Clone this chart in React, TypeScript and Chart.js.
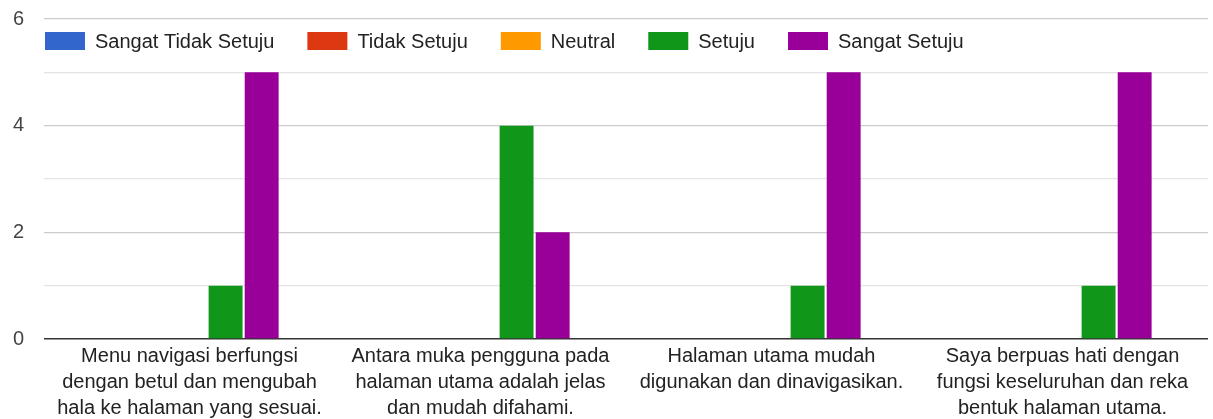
import React, { useEffect, useRef } from "react";
import { Chart, registerables } from "chart.js";

Chart.register(...registerables);

const categories: string[][] = [
  ["Menu navigasi berfungsi", "dengan betul dan mengubah", "hala ke halaman yang sesuai."],
  ["Antara muka pengguna pada", "halaman utama adalah jelas", "dan mudah difahami."],
  ["Halaman utama mudah", "digunakan dan dinavigasikan."],
  ["Saya berpuas hati dengan", "fungsi keseluruhan dan reka", "bentuk halaman utama."],
];

const seriesNames = ["Sangat Tidak Setuju", "Tidak Setuju", "Neutral", "Setuju", "Sangat Setuju"];
const seriesColors = ["#3366cc", "#dc3912", "#ff9900", "#109618", "#990099"];

const sangatTidakSetuju = [0, 0, 0, 0];
const tidakSetuju = [0, 0, 0, 0];
const neutral = [0, 0, 0, 0];
const setuju = [1, 4, 1, 1];
const sangatSetuju = [5, 2, 5, 5];

const yTicks = [0, 2, 4, 6];

const FONT = "'Liberation Sans', Arial, sans-serif";

const insideLegend = {
  id: "insideLegend",
  afterDatasetsDraw(chart: any) {
    const { ctx, chartArea } = chart;
    ctx.save();
    ctx.font = `20px ${FONT}`;
    ctx.textBaseline = "middle";
    let x = chartArea.left + 1;
    const yc = chartArea.top + 22;
    chart.data.datasets.forEach((ds: any) => {
      ctx.fillStyle = ds.backgroundColor;
      ctx.fillRect(x, yc - 9, 40, 18);
      ctx.fillStyle = "#222222";
      ctx.fillText(ds.label, x + 50, yc + 1);
      x += 50 + ctx.measureText(ds.label).width + 33;
    });
    ctx.restore();
  },
};

export default function App() {
  const ref = useRef<HTMLCanvasElement | null>(null);

  useEffect(() => {
    document.body.style.margin = "0";
    const values = [sangatTidakSetuju, tidakSetuju, neutral, setuju, sangatSetuju];
    const chart = new Chart(ref.current!, {
      type: "bar",
      data: {
        labels: categories,
        datasets: seriesNames.map((name, i) => ({
          label: name,
          data: values[i],
          backgroundColor: seriesColors[i],
          borderWidth: 0,
          categoryPercentage: 0.62,
          barPercentage: 0.94,
        })),
      },
      options: {
        animation: false,
        responsive: false,
        maintainAspectRatio: false,
        layout: { padding: { top: 19, right: 5, left: 0, bottom: 0 } },
        plugins: {
          legend: { display: false },
          tooltip: { enabled: false },
        },
        scales: {
          x: {
            afterFit(scale: any) {
              scale.height = 80;
              scale.paddingTop = 0;
              scale.paddingBottom = 0;
            },
            grid: { display: false },
            border: { display: false },
            ticks: {
              color: "#222222",
              font: { family: FONT, size: 20, lineHeight: 1.3 },
              maxRotation: 0,
              autoSkip: false,
              padding: -4,
            },
          },
          y: {
            min: 0,
            max: 6,
            afterFit(scale: any) {
              scale.width = 44;
              scale.paddingTop = 0;
              scale.paddingBottom = 0;
            },
            border: { display: false },
            grid: {
              color: (c: any) =>
                c.tick.value === 0 ? "#333333" : c.tick.value % 2 === 0 ? "#cccccc" : "#e4e4e4",
              lineWidth: (c: any) => (c.tick.value === 0 ? 1.5 : 1.2),
              drawTicks: false,
            },
            ticks: {
              stepSize: 1,
              color: "#444444",
              font: { family: FONT, size: 20 },
              padding: 20,
              callback: (v: any) => (yTicks.includes(Number(v)) ? String(v) : ""),
            },
          },
        },
      },
      plugins: [insideLegend],
    });
    return () => chart.destroy();
  }, []);

  return (
    <div style={{ position: "absolute", left: 0, top: 0, width: 1213, height: 419 }}>
      <canvas ref={ref} width={1213} height={419} style={{ width: 1213, height: 419 }} />
    </div>
  );
}
